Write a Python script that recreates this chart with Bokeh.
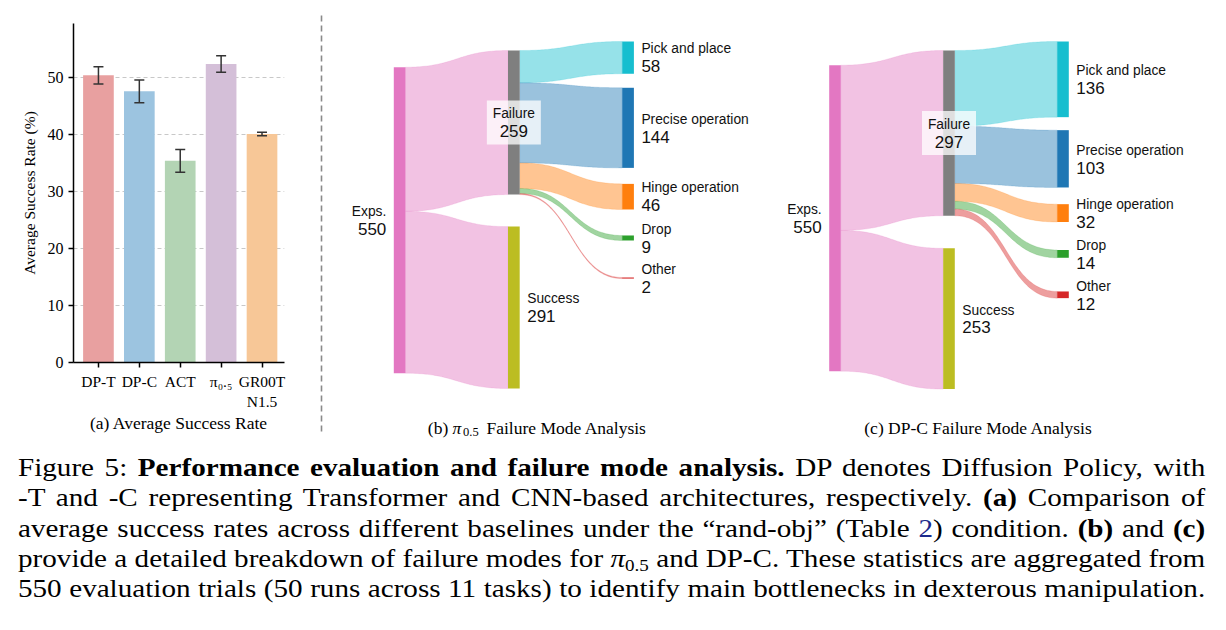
import numpy as np
from bokeh.plotting import figure
from bokeh.models import Range1d, FixedTicker, Whisker, TeeHead, ColumnDataSource, Div
from bokeh.layouts import row, column
from bokeh.embed import file_html
from bokeh.resources import INLINE
from bokeh.core.properties import value

# ---------------- data ----------------
bar_labels = ["DP-T", "DP-C", "ACT", "π₀.₅", "GR00T\nN1.5"]
bar_means = [50.4, 47.6, 35.4, 52.4, 40.1]
bar_errs = [1.5, 2.0, 2.0, 1.45, 0.3]
bar_colors = ["#e8a0a0", "#9cc4e0", "#b3d4b4", "#d4bfd8", "#f7c797"]
y_ticks = [0, 10, 20, 30, 40, 50]

total_trials = 550
outcome_names = ["Failure", "Success"]
mode_names = ["Pick and place", "Precise operation", "Hinge operation", "Drop", "Other"]
pi05_outcome = [259, 291]
pi05_modes = [58, 144, 46, 9, 2]
dpc_outcome = [297, 253]
dpc_modes = [136, 103, 32, 14, 12]

exps_color = "#e377c2"
outcome_colors = ["#7f7f7f", "#bcbd22"]
mode_colors = ["#17becf", "#1f77b4", "#ff7f0e", "#2ca02c", "#d62728"]

# layout constants (pixels) for the two Sankey panels
pi05_layout = dict(x0=393.3, dx=114.2, w=11.7, span=306, exps_top=66.7, mid_top=50,
                   mid_gap=32, right_top=41, right_gaps=[14, 16, 26, 37])
dpc_layout = dict(x0=828.7, dx=114.0, w=11.6, span=306, exps_top=64.7, mid_top=50,
                  mid_gap=32.6, right_top=41, right_gaps=[13, 16.7, 28, 33.7])

SERIF = "Liberation Serif"
SANS = "Liberation Sans"
FRAME_TOP, FRAME_BOTTOM = 23, 78   # borders shared by both top figures

# ---------------- (a) bar chart ----------------
bar = figure(width=320, height=440, x_range=Range1d(-0.61, 4.55), y_range=Range1d(0, 59.5),
             output_backend="svg", toolbar_location=None,
             min_border_left=73, min_border_right=36,
             min_border_top=FRAME_TOP, min_border_bottom=FRAME_BOTTOM)
idx = list(range(len(bar_labels)))
bar.vbar(x=idx, top=bar_means, width=0.75, fill_color=bar_colors, line_color=None)
err_src = ColumnDataSource(dict(x=idx,
                                upper=[m + e for m, e in zip(bar_means, bar_errs)],
                                lower=[m - e for m, e in zip(bar_means, bar_errs)]))
wh = Whisker(base="x", upper="upper", lower="lower", source=err_src,
             line_color="#333333", line_width=1.5,
             upper_head=TeeHead(size=10, line_color="#333333", line_width=1.5),
             lower_head=TeeHead(size=10, line_color="#333333", line_width=1.5))
wh.level = "annotation"
bar.add_layout(wh)

bar.outline_line_color = None
bar.xgrid.visible = False
bar.ygrid.ticker = FixedTicker(ticks=y_ticks[1:])
bar.ygrid.grid_line_color = "#c8c8c8"
bar.ygrid.grid_line_dash = "4 3"
bar.ygrid.grid_line_width = 1

bar.xaxis.ticker = FixedTicker(ticks=idx)
bar.xaxis.major_label_overrides = {i: l for i, l in zip(idx, bar_labels)}
bar.yaxis.ticker = FixedTicker(ticks=y_ticks)
for ax in (bar.xaxis[0], bar.yaxis[0]):
    ax.axis_line_color = "black"
    ax.axis_line_width = 1.5
    ax.major_tick_line_color = "black"
    ax.major_tick_line_width = 1.5
    ax.major_tick_in = 0
    ax.major_tick_out = 5
    ax.minor_tick_line_color = None
    ax.major_label_text_font = SERIF
    ax.major_label_text_font_size = "16px"
    ax.major_label_text_color = "black"
    ax.major_label_standoff = 5
    ax.axis_label_text_font = SERIF
    ax.axis_label_text_font_style = "normal"
    ax.axis_label_text_color = "black"
bar.xaxis.major_label_text_font_size = "15.5px"
bar.yaxis.axis_label = "Average Success Rate (%)"
bar.yaxis.axis_label_text_font_size = "15.5px"
bar.yaxis.axis_label_standoff = 7
bar.xaxis.axis_label = "(a) Average Success Rate"
bar.xaxis.axis_label_text_font_size = "17.5px"
bar.xaxis.axis_label_standoff = 0

# ---------------- (b), (c) Sankey panels ----------------
# frame spans page rows FRAME_TOP..(440-FRAME_BOTTOM); data units == page pixels
sk = figure(width=906, height=440, x_range=Range1d(320, 1226),
            y_range=Range1d(440 - FRAME_BOTTOM, FRAME_TOP),
            output_backend="svg", toolbar_location=None, x_axis_type=None, y_axis_type=None,
            min_border_left=0, min_border_right=0,
            min_border_top=FRAME_TOP, min_border_bottom=FRAME_BOTTOM)
sk.outline_line_color = None
sk.xgrid.visible = False
sk.ygrid.visible = False

renderers = []
# dashed divider between (a) and (b)
renderers.append(sk.segment(x0=[321], y0=[15], x1=[321], y1=[432], line_color="#8a8a8a",
                            line_width=1.6, line_dash="6 4"))


def band(xa, ya0, ya1, xb, yb0, yb1, n=60):
    t = np.linspace(0, 1, n)
    xm = (xa + xb) / 2
    bx = (1 - t) ** 3 * xa + 3 * (1 - t) ** 2 * t * xm + 3 * (1 - t) * t ** 2 * xm + t ** 3 * xb
    h = 3 * t ** 2 - 2 * t ** 3
    top = ya0 + (yb0 - ya0) * h
    bot = ya1 + (yb1 - ya1) * h
    return list(bx) + list(bx[::-1]), list(top) + list(bot[::-1])


def draw_sankey(p, outcome, modes, L):
    out = []
    k = L["span"] / total_trials
    xl, xm, xr = L["x0"], L["x0"] + L["dx"], L["x0"] + 2 * L["dx"]
    w = L["w"]
    e0 = L["exps_top"]
    e1 = e0 + total_trials * k
    f0 = L["mid_top"]
    f1 = f0 + outcome[0] * k
    s0 = f1 + L["mid_gap"]
    s1 = s0 + outcome[1] * k
    mtops = []
    y = L["right_top"]
    for v, g in zip(modes, [0] + L["right_gaps"]):
        y += g
        mtops.append(y)
        y += v * k

    # links
    lx, ly, lc = [], [], []
    split = e0 + outcome[0] * k
    a, b = band(xl + w, e0, split, xm, f0, f1)
    lx.append(a); ly.append(b); lc.append(exps_color)
    a, b = band(xl + w, split, e1, xm, s0, s1)
    lx.append(a); ly.append(b); lc.append(exps_color)
    yy = f0
    for v, top, c in zip(modes, mtops, mode_colors):
        a, b = band(xm + w, yy, yy + v * k, xr, top, top + v * k)
        lx.append(a); ly.append(b); lc.append(c)
        yy += v * k
    out.append(p.patches(xs=lx, ys=ly, fill_color=lc, fill_alpha=0.45,
                         line_color=lc, line_width=0.4, line_alpha=0.45))

    # nodes
    nl = [xl, xm, xm] + [xr] * len(modes)
    nt = [e0, f0, s0] + mtops
    nb = [e1, f1, s1] + [t + v * k for t, v in zip(mtops, modes)]
    nc = [exps_color] + outcome_colors + mode_colors
    out.append(p.quad(left=nl, right=[x + w for x in nl], top=nt, bottom=nb,
                      fill_color=nc, line_color=None))

    # failure label box
    fcx = xm + w / 2
    fcy = (f0 + f1) / 2
    out.append(p.quad(left=[fcx - 27], right=[fcx + 27], top=[fcy - 22], bottom=[fcy + 22],
                      fill_color="white", fill_alpha=0.75, line_color=None))

    # labels
    gap = 7.5
    lab_x = [xl - gap, fcx, xm + w + gap] + [xr + w + gap] * len(modes)
    centers = [(t + b_) / 2 for t, b_ in zip(nt, nb)]
    names = ["Exps."] + outcome_names + mode_names
    vals = [str(total_trials)] + [str(v) for v in outcome] + [str(v) for v in modes]
    aligns = ["right", "center", "left"] + ["left"] * len(modes)
    src_n = ColumnDataSource(dict(x=lab_x, y=[c - 8.7 for c in centers], t=names, a=aligns))
    src_v = ColumnDataSource(dict(x=lab_x, y=[c + 8.7 for c in centers], t=vals, a=aligns))
    out.append(p.text(x="x", y="y", text="t", text_align="a", source=src_n, text_baseline="middle",
                      text_font=value(SANS), text_font_size=value("13.8px"), text_color="#111111"))
    out.append(p.text(x="x", y="y", text="t", text_align="a", source=src_v, text_baseline="middle",
                      text_font=value(SANS), text_font_size=value("17px"), text_color="#111111"))
    return out


renderers += draw_sankey(sk, pi05_outcome, pi05_modes, pi05_layout)
renderers += draw_sankey(sk, dpc_outcome, dpc_modes, dpc_layout)

# sub-captions
cap_kw = dict(text_baseline="alphabetic", text_color="black", text_font=value(SERIF))
renderers.append(sk.text(x=[427.3], y=[427], text=["(b)"], text_align="left",
                         text_font_size=value("17.5px"), **cap_kw))
renderers.append(sk.text(x=[452.0], y=[427], text=["π"], text_align="left",
                         text_font_size=value("17.5px"), text_font_style="italic", **cap_kw))
renderers.append(sk.text(x=[462.5], y=[431], text=["0.5"], text_align="left",
                         text_font_size=value("12.5px"), **cap_kw))
renderers.append(sk.text(x=[486.0], y=[427], text=["Failure Mode Analysis"], text_align="left",
                         text_font_size=value("17.5px"), **cap_kw))
renderers.append(sk.text(x=[978], y=[427], text=["(c) DP-C Failure Mode Analysis"],
                         text_align="center", text_font_size=value("17.5px"), **cap_kw))
for r in renderers:
    r.level = "overlay"   # draw outside the shared frame without clipping

# ---------------- figure caption ----------------
line_style = "text-align:justify;text-align-last:justify;word-spacing:-3px;"
caption_html = (
    "<div style=\"font-family:'Liberation Serif','Times New Roman',serif;font-size:26px;"
    "line-height:30.3px;color:#000;width:1060px;margin:13px 0 0 18px;"
    "transform:scaleX(1.12);transform-origin:0 0;\">"
    f"<div style='{line_style}'>Figure 5: <b>Performance evaluation and failure mode analysis.</b> "
    "DP denotes Diffusion Policy, with</div>"
    f"<div style='{line_style}'>-T and -C representing Transformer and CNN-based architectures, "
    "respectively. <b>(a)</b> Comparison of</div>"
    f"<div style='{line_style}'>average success rates across different baselines under the "
    "&ldquo;rand-obj&rdquo; (Table <span style='color:#1c2a8c'>2</span>) condition. <b>(b)</b> and <b>(c)</b></div>"
    f"<div style='{line_style}'>provide a detailed breakdown of failure modes for <i>π</i>"
    "<span style='font-size:17px;vertical-align:-4px;line-height:0;'>0.5</span> and DP-C. "
    "These statistics are aggregated from</div>"
    f"<div style='{line_style}'>550 evaluation trials (50 runs across 11 tasks) to identify main "
    "bottlenecks in dexterous manipulation.</div>"
    "</div>"
)
cap = Div(text=caption_html, width=1226, height=190, margin=(0, 0, 0, 0), disable_math=True)

layout = column(row(bar, sk, spacing=0), cap, spacing=0)
open("out.html", "w").write(file_html(layout, INLINE))
